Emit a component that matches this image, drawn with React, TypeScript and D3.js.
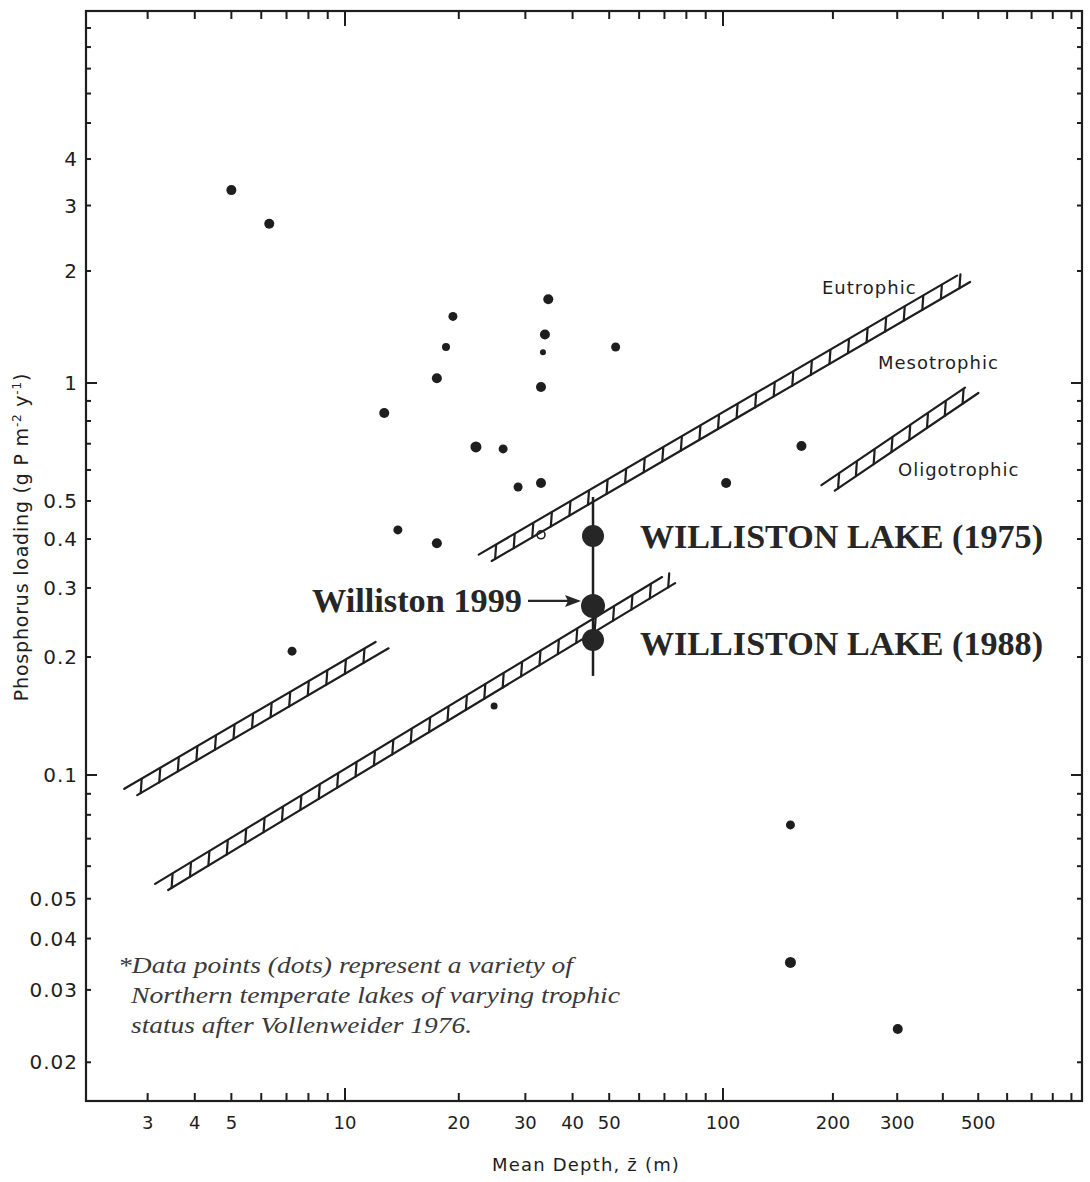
import React from "react";
import * as d3 from "d3";

// Lake data points: mean depth (m) and phosphorus loading (g P m^-2 y^-1)
const lakeDepth = [5.0, 6.3, 34.5, 19.3, 18.5, 33.8, 33.4, 52, 17.5, 33.0, 12.7, 22.2, 26.2, 28.7, 33.0, 13.8, 17.5, 7.24, 24.8, 102, 164, 153, 153, 301];
const lakeLoading = [3.3, 2.68, 1.68, 1.51, 1.25, 1.35, 1.21, 1.25, 1.03, 0.977, 0.838, 0.687, 0.679, 0.543, 0.556, 0.422, 0.39, 0.207, 0.15, 0.556, 0.691, 0.0756, 0.035, 0.0241];
const lakeDotSize = [5, 5, 5, 4.5, 4, 5, 3, 4.5, 5, 5, 5, 5.5, 4.5, 4.5, 5, 4.5, 5, 4.5, 3.5, 5, 5, 4.5, 5.5, 5];

// Trophic boundary bands, each segment given as [start, end] in (depth, loading)
const eutrophicBand = [
  [[2.65, 0.0899], [12.8, 0.217]],
  [[23.0, 0.354], [466, 1.93]],
];
const oligotrophicBand = [
  [[3.2, 0.0528], [73.3, 0.318]],
  [[190, 0.533], [490, 0.971]],
];

// Williston Lake
const willistonDepth = 45.3;
const willistonLoading = [0.407, 0.27, 0.221];
const willistonRange = [0.179, 0.512];

// Axis ticks
const xMinorTicks = [3, 4, 5, 6, 7, 8, 9, 20, 30, 40, 50, 60, 70, 80, 90, 200, 300, 400, 500, 600, 700, 800, 900];
const xMajorTicks = [10, 100];
const xTickLabels = [3, 4, 5, 10, 20, 30, 40, 50, 100, 200, 300, 500];
const yMinorTicks = [0.02, 0.03, 0.04, 0.05, 0.06, 0.07, 0.08, 0.09, 0.2, 0.3, 0.4, 0.5, 0.6, 0.7, 0.8, 0.9, 2, 3, 4, 5, 6, 7, 8, 9];
const yMajorTicks = [0.1, 1];
const yTickLabels = [
  [4, "4"], [3, "3"], [2, "2"], [1, "1"], [0.5, "0.5"], [0.4, "0.4"], [0.3, "0.3"], [0.2, "0.2"],
  [0.1, "0.1"], [0.05, "0.05"], [0.04, "0.04"], [0.03, "0.03"], [0.02, "0.02"],
] as [number, string][];

const footnote = [
  "*Data points (dots) represent a variety of",
  "Northern temperate lakes of varying trophic",
  "status after Vollenweider 1976.",
];
const footnoteWidth = [455, 489, 341];

const INK = "#1e1e1e";

// Log scales, piecewise by decade
const x = d3.scaleLog().domain([2.06, 10, 100, 962]).range([86, 345, 723, 1082]);
const y = d3.scaleLog().domain([0.0161, 0.1, 1, 10]).range([1101, 775, 383, 11]);

const [X0, X1] = [x(2.06), x(962)];
const [Y0, Y1] = [y(10), y(0.0161)];

function Band({ seg }: { seg: number[][] }) {
  const p0 = [x(seg[0][0]), y(seg[0][1])];
  const p1 = [x(seg[1][0]), y(seg[1][1])];
  const dx = p1[0] - p0[0];
  const dy = p1[1] - p0[1];
  const len = Math.hypot(dx, dy);
  const u = [dx / len, dy / len];
  const n = [u[1], -u[0]]; // points up-left
  const h = 6;
  const shift = 8;
  const upper = [
    [p0[0] + n[0] * h, p0[1] + n[1] * h],
    [p1[0] + n[0] * h - u[0] * shift, p1[1] + n[1] * h - u[1] * shift],
  ];
  const lower = [
    [p0[0] - n[0] * h + u[0] * shift, p0[1] - n[1] * h + u[1] * shift],
    [p1[0] - n[0] * h, p1[1] - n[1] * h],
  ];
  const rungs: number[][] = [];
  const vert = (2 * h) / Math.abs(u[0]);
  for (let t = 12; t < len - 8; t += 21.5) {
    const bx = p0[0] + u[0] * t - n[0] * h;
    const by = p0[1] + u[1] * t - n[1] * h;
    rungs.push([bx, by, bx + 1, by - vert]);
  }
  return (
    <g stroke={INK} strokeWidth={2.2} fill="none" strokeLinecap="round">
      <line x1={upper[0][0]} y1={upper[0][1]} x2={upper[1][0]} y2={upper[1][1]} />
      <line x1={lower[0][0]} y1={lower[0][1]} x2={lower[1][0]} y2={lower[1][1]} />
      {rungs.map((r, i) => (
        <line key={i} x1={r[0]} y1={r[1]} x2={r[2]} y2={r[3]} strokeWidth={2.2} />
      ))}
    </g>
  );
}

export default function App() {
  const wx = x(willistonDepth);
  const arrowY = y(willistonLoading[1]) - 5;
  return (
    <svg
      width={1090}
      height={1182}
      viewBox="0 0 1090 1182"
      style={{ position: "absolute", left: 0, top: 0, background: "#fff" }}
    >
      <rect x={0} y={0} width={1090} height={1182} fill="#fff" />

      {/* Frame */}
      <rect x={X0} y={Y0} width={X1 - X0} height={Y1 - Y0} fill="none" stroke={INK} strokeWidth={2.2} />

      {/* X ticks, bottom and top */}
      <g stroke={INK} strokeWidth={2}>
        {xMinorTicks.map((v) => (
          <g key={"xm" + v}>
            <line x1={x(v)} x2={x(v)} y1={Y1} y2={Y1 - 8} />
            <line x1={x(v)} x2={x(v)} y1={Y0} y2={Y0 + 8} />
          </g>
        ))}
        {xMajorTicks.map((v) => (
          <g key={"xM" + v}>
            <line x1={x(v)} x2={x(v)} y1={Y1} y2={Y1 - 13} />
            <line x1={x(v)} x2={x(v)} y1={Y0} y2={Y0 + 15} />
          </g>
        ))}
      </g>

      {/* Y ticks, left and right */}
      <g stroke={INK} strokeWidth={2}>
        {yMinorTicks.map((v) => (
          <g key={"ym" + v}>
            <line x1={X0} x2={X0 + 5} y1={y(v)} y2={y(v)} />
            <line x1={X1} x2={X1 - 5} y1={y(v)} y2={y(v)} />
          </g>
        ))}
        {yMajorTicks.map((v) => (
          <g key={"yM" + v}>
            <line x1={X0} x2={X0 + 11} y1={y(v)} y2={y(v)} />
            <line x1={X1} x2={X1 - 11} y1={y(v)} y2={y(v)} />
          </g>
        ))}
      </g>

      {/* Tick labels */}
      <g fontFamily="DejaVu Sans" fontSize={18} fill={INK}>
        {xTickLabels.map((v) => (
          <text key={"xl" + v} x={x(v)} y={1129} textAnchor="middle">
            {v}
          </text>
        ))}
        {yTickLabels.map(([v, s]) => (
          <text key={"yl" + s} x={78} y={y(v)} dy="0.36em" textAnchor="end" fontSize={20} letterSpacing={1}>
            {s}
          </text>
        ))}
      </g>

      {/* Axis titles */}
      <text x={586} y={1171} textAnchor="middle" fontFamily="DejaVu Sans" fontSize={18} letterSpacing={1.2} fill={INK}>
        Mean Depth, z̄ (m)
      </text>
      <text
        transform="translate(28,537) rotate(-90)"
        textAnchor="middle"
        fontFamily="DejaVu Sans"
        fontSize={19}
        letterSpacing={0.8}
        fill={INK}
      >
        Phosphorus loading (g P m
        <tspan dy={-7} fontSize={12}>-2</tspan>
        <tspan dy={7}> y</tspan>
        <tspan dy={-7} fontSize={12}>-1</tspan>
        <tspan dy={7}>)</tspan>
      </text>

      {/* Trophic bands */}
      {eutrophicBand.map((s, i) => (
        <Band key={"e" + i} seg={s} />
      ))}
      {oligotrophicBand.map((s, i) => (
        <Band key={"o" + i} seg={s} />
      ))}

      {/* Band labels */}
      <g fontFamily="DejaVu Sans" fontSize={18} fill={INK} letterSpacing={1}>
        <text x={822} y={294}>Eutrophic</text>
        <text x={878} y={369}>Mesotrophic</text>
        <text x={898} y={476}>Oligotrophic</text>
      </g>

      {/* Lake dots */}
      <g fill={INK}>
        {lakeDepth.map((d, i) => (
          <circle key={"d" + i} cx={x(d)} cy={y(lakeLoading[i])} r={lakeDotSize[i]} />
        ))}
      </g>
      <circle cx={x(33)} cy={y(0.41)} r={4} fill="none" stroke={INK} strokeWidth={1.6} />

      {/* Williston Lake */}
      <line x1={wx} x2={wx} y1={y(willistonRange[0])} y2={y(willistonRange[1])} stroke={INK} strokeWidth={2.5} />
      {willistonLoading.map((v, i) => (
        <circle key={"w" + i} cx={wx} cy={y(v)} r={i === 1 ? 12 : 11} fill="#262626" />
      ))}
      <g fontFamily="Liberation Serif" fontWeight="bold" fill="#262626">
        <text x={640} y={y(willistonLoading[0]) + 12} fontSize={33} textLength={403} lengthAdjust="spacingAndGlyphs">
          WILLISTON LAKE (1975)
        </text>
        <text x={640} y={y(willistonLoading[2]) + 15} fontSize={33} textLength={403} lengthAdjust="spacingAndGlyphs">
          WILLISTON LAKE (1988)
        </text>
        <text x={312} y={arrowY + 11} fontSize={34} textLength={210} lengthAdjust="spacingAndGlyphs">
          Williston 1999
        </text>
      </g>
      <line x1={528} x2={568} y1={arrowY} y2={arrowY} stroke="#262626" strokeWidth={2.2} />
      <path d={`M${581},${arrowY} L${565},${arrowY - 6} L${568},${arrowY} L${565},${arrowY + 6} Z`} fill="#262626" />

      {/* Footnote */}
      <g fontFamily="Liberation Serif" fontStyle="italic" fontSize={24} fill="#3a3a3a">
        {footnote.map((line, i) => (
          <text
            key={"f" + i}
            x={i === 0 ? 118 : 131}
            y={973 + i * 30}
            textLength={footnoteWidth[i]}
            lengthAdjust="spacingAndGlyphs"
          >
            {line}
          </text>
        ))}
      </g>
    </svg>
  );
}
